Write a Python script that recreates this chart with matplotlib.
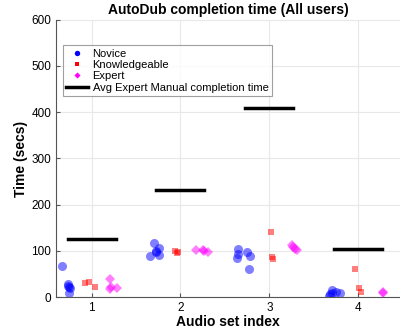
import matplotlib
matplotlib.use("Agg")
import matplotlib.pyplot as plt

plt.rcParams['font.family'] = ['Liberation Sans', 'DejaVu Sans']

# completion times per user group (x is jittered audio set index)
novice_x = [0.67, 0.73, 0.74, 0.75, 0.76, 0.75,
            1.66, 1.70, 1.73, 1.76, 1.76, 1.72,
            2.65, 2.65, 2.64, 2.75, 2.78, 2.77,
            3.67, 3.70, 3.71, 3.75, 3.80, 3.68]
novice_y = [67, 28, 25, 22, 20, 8,
            90, 118, 99, 107, 92, 97,
            104, 94, 85, 97, 88, 61,
            2, 16, 9, 12, 10, 6]

knowl_x = [0.93, 0.97, 1.04,
           1.94, 1.97, 1.96,
           3.02, 3.03, 3.04,
           3.96, 4.01, 4.03]
knowl_y = [30, 33, 23,
           100, 97, 95,
           140, 86, 83,
           61, 20, 11]

expert_x = [1.21, 1.22, 1.21, 1.29,
            2.18, 2.25, 2.31, 2.27,
            3.25, 3.29, 3.31, 3.27,
            4.28, 4.28]
expert_y = [40, 23, 18, 20,
            103, 101, 97, 99,
            112, 105, 102, 108,
            9, 12]

# average expert manual completion time per set
sets = [1, 2, 3, 4]
avg_manual = [126, 231, 410, 104]
half_width = 0.27

fig = plt.figure(figsize=(4.0, 3.35), dpi=100)
ax = fig.add_axes([0.14, 0.113, 0.86, 0.828])

ax.grid(True, color='#e8e8e8', linewidth=0.8)
ax.set_axisbelow(True)

ax.plot(novice_x, novice_y, 'o', color='blue', alpha=0.5, markersize=6.5,
        markeredgewidth=0, label='Novice')
ax.plot(knowl_x, knowl_y, 's', color='red', alpha=0.5, markersize=4.8,
        markeredgewidth=0, label='Knowledgeable')
ax.plot(expert_x, expert_y, 'D', color='magenta', alpha=0.5, markersize=5.2,
        markeredgewidth=0, label='Expert')
for i, (s, v) in enumerate(zip(sets, avg_manual)):
    ax.plot([s - half_width, s + half_width], [v, v], color='black', linewidth=2.5,
            label='Avg Expert Manual completion time' if i == 0 else None)

ax.set_xlim(0.6, 4.47)
ax.set_ylim(0, 600)
ax.set_xticks(sets)
ax.set_yticks(range(0, 601, 100))
ax.tick_params(direction='in', labelsize=8.5, length=3, color='#555555')
for side in ('top', 'right'):
    ax.spines[side].set_visible(False)
for side in ('left', 'bottom'):
    ax.spines[side].set_color('#555555')
    ax.spines[side].set_linewidth(0.8)

ax.set_title('AutoDub completion time (All users)', fontsize=10, fontweight='bold', pad=4)
ax.set_xlabel('Audio set index', fontsize=10, fontweight='bold', labelpad=1)
ax.set_ylabel('Time (secs)', fontsize=10, fontweight='bold', labelpad=2)

leg = ax.legend(loc='upper left', bbox_to_anchor=(0.003, 0.928), fontsize=8,
                frameon=True, fancybox=False, edgecolor='#888888',
                markerscale=0.6, handlelength=2.0, labelspacing=0.12,
                borderpad=0.3, handletextpad=0.4)
for h in leg.legend_handles[:3]:
    h.set_alpha(1.0)
leg.get_frame().set_linewidth(0.8)

fig.savefig('out.png', dpi=100)
